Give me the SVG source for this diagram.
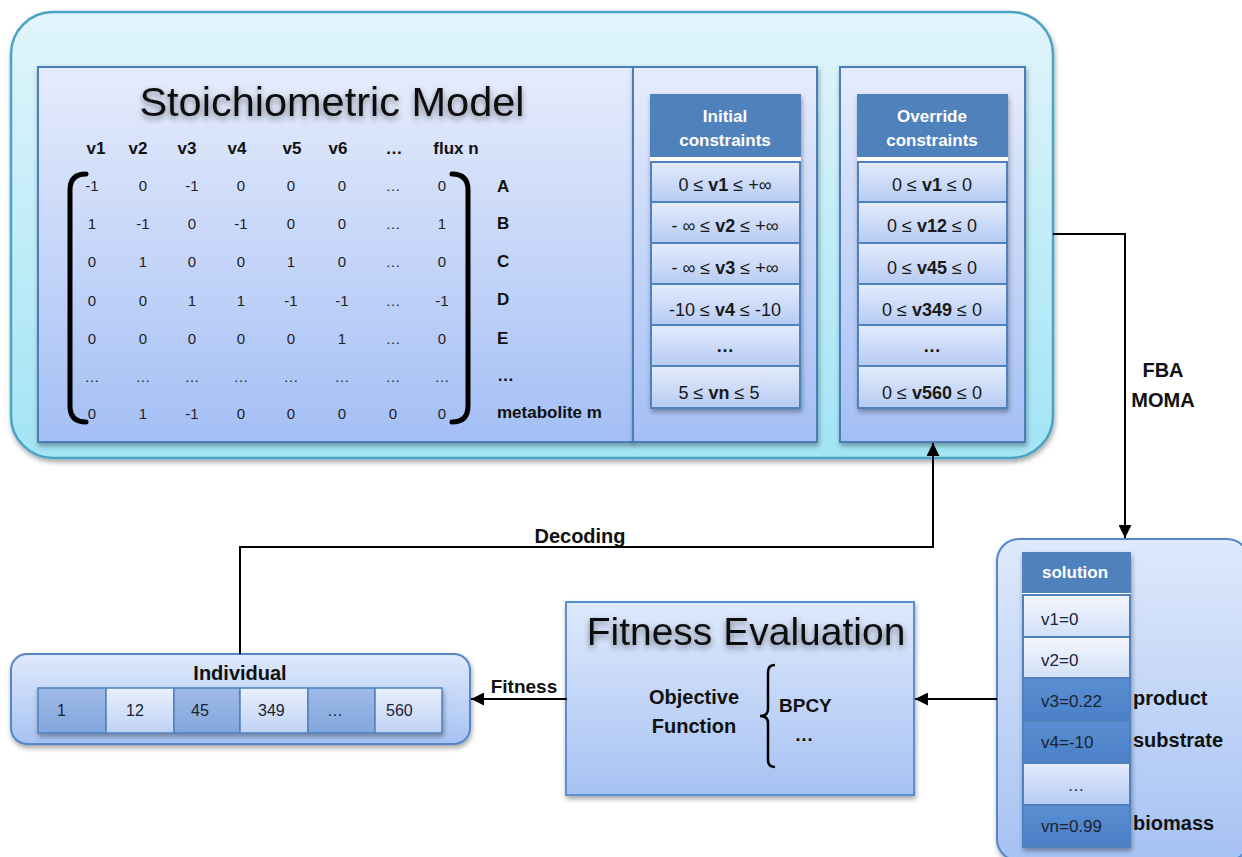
<svg xmlns="http://www.w3.org/2000/svg" width="1242" height="857" viewBox="0 0 1242 857">
<defs>
<linearGradient id="gOuter" x1="0" y1="0" x2="0" y2="1"><stop offset="0" stop-color="#e1f5fc"/><stop offset="1" stop-color="#a2e4f5"/></linearGradient>
<linearGradient id="gPanel" x1="0" y1="0" x2="0" y2="1"><stop offset="0" stop-color="#e6ecfc"/><stop offset="1" stop-color="#a4bff5"/></linearGradient>
<linearGradient id="gBox" x1="0" y1="0" x2="0" y2="1"><stop offset="0" stop-color="#dfe9fc"/><stop offset="1" stop-color="#a6c2f3"/></linearGradient>
<linearGradient id="gRow" x1="0" y1="0" x2="0" y2="1"><stop offset="0" stop-color="#e4ecfc"/><stop offset="1" stop-color="#b6cbf3"/></linearGradient>
<linearGradient id="gLight" x1="0" y1="0" x2="0" y2="1"><stop offset="0" stop-color="#f4f7fe"/><stop offset="1" stop-color="#d3e0f8"/></linearGradient>
<linearGradient id="gDark" x1="0" y1="0" x2="0" y2="1"><stop offset="0" stop-color="#5a8fd3"/><stop offset="1" stop-color="#4b80c6"/></linearGradient>
<linearGradient id="gCellDark" x1="0" y1="0" x2="0" y2="1"><stop offset="0" stop-color="#9fbbe8"/><stop offset="1" stop-color="#82a6dc"/></linearGradient>
<linearGradient id="gCellLight" x1="0" y1="0" x2="0" y2="1"><stop offset="0" stop-color="#eaf0fd"/><stop offset="1" stop-color="#bed1f4"/></linearGradient>
<filter id="sh" x="-10%" y="-10%" width="120%" height="130%"><feDropShadow dx="1" dy="3" stdDeviation="2.5" flood-color="#000" flood-opacity="0.35"/></filter>
<filter id="tsh" x="-10%" y="-30%" width="120%" height="170%"><feDropShadow dx="0" dy="3" stdDeviation="3" flood-color="#000" flood-opacity="0.45"/></filter>
<marker id="arr" viewBox="0 0 13 13" refX="13" refY="6.5" markerWidth="13" markerHeight="13" markerUnits="userSpaceOnUse" orient="auto"><path d="M0,0 L13,6.5 L0,13 z" fill="#000"/></marker>
</defs>
<style>
text{font-family:"Liberation Sans",Arial,sans-serif;fill:#111}
.b{font-weight:bold}
.title{font-size:41.5px;text-anchor:middle;filter:url(#tsh)}
.colh{font-size:17px;font-weight:bold;text-anchor:middle}
.rowl{font-size:17px;font-weight:bold}
.m{font-size:15px;text-anchor:middle;fill:#222}
.panel{fill:url(#gPanel);stroke:#4a7ebb;stroke-width:2}
.hdr{fill:#4f81bd}
.hdrt{font-size:17px;font-weight:bold;fill:#fff;text-anchor:middle}
.row{fill:url(#gRow);stroke:#4f81bd;stroke-width:2}
.ct{font-size:18px;text-anchor:middle;fill:#1a1a1a}
.lbl{font-size:20px;font-weight:bold}
.sol{font-size:17px;fill:#1a2333}
.cell{font-size:16px;fill:#1a2333}
.br{fill:none;stroke:#000;stroke-width:5;stroke-linecap:round}
.conn{fill:none;stroke:#000;stroke-width:2}
</style>

<g id="stoichiometric-container">
<rect x="11" y="12" width="1042" height="446" rx="42" fill="url(#gOuter)" stroke="#4aa3c3" stroke-width="2.5" filter="url(#sh)"/>
</g>

<g id="stoichiometric-model">
<rect class="panel" x="38" y="67" width="595" height="375" filter="url(#sh)"/>
<text class="title" x="332" y="116">Stoichiometric Model</text>
<text class="colh" x="96" y="154">v1</text>
<text class="colh" x="138" y="154">v2</text>
<text class="colh" x="187" y="154">v3</text>
<text class="colh" x="237" y="154">v4</text>
<text class="colh" x="292" y="154">v5</text>
<text class="colh" x="338" y="154">v6</text>
<text class="colh" x="394" y="154">…</text>
<text class="colh" x="456" y="154">flux n</text>
<path class="br" d="M86,174 Q70,174 70,190 L70,406 Q70,422 86,422"/>
<path class="br" d="M452,174 Q468,174 468,190 L468,406 Q468,422 452,422"/>
<g id="matrix">
<text class="m" y="191"><tspan x="92">-1</tspan><tspan x="143">0</tspan><tspan x="192">-1</tspan><tspan x="241">0</tspan><tspan x="291">0</tspan><tspan x="342">0</tspan><tspan x="393">…</tspan><tspan x="442">0</tspan></text>
<text class="m" y="229"><tspan x="92">1</tspan><tspan x="143">-1</tspan><tspan x="192">0</tspan><tspan x="241">-1</tspan><tspan x="291">0</tspan><tspan x="342">0</tspan><tspan x="393">…</tspan><tspan x="442">1</tspan></text>
<text class="m" y="267"><tspan x="92">0</tspan><tspan x="143">1</tspan><tspan x="192">0</tspan><tspan x="241">0</tspan><tspan x="291">1</tspan><tspan x="342">0</tspan><tspan x="393">…</tspan><tspan x="442">0</tspan></text>
<text class="m" y="306"><tspan x="92">0</tspan><tspan x="143">0</tspan><tspan x="192">1</tspan><tspan x="241">1</tspan><tspan x="291">-1</tspan><tspan x="342">-1</tspan><tspan x="393">…</tspan><tspan x="442">-1</tspan></text>
<text class="m" y="344"><tspan x="92">0</tspan><tspan x="143">0</tspan><tspan x="192">0</tspan><tspan x="241">0</tspan><tspan x="291">0</tspan><tspan x="342">1</tspan><tspan x="393">…</tspan><tspan x="442">0</tspan></text>
<text class="m" y="382"><tspan x="92">…</tspan><tspan x="143">…</tspan><tspan x="192">…</tspan><tspan x="241">…</tspan><tspan x="291">…</tspan><tspan x="342">…</tspan><tspan x="393">…</tspan><tspan x="442">…</tspan></text>
<text class="m" y="419"><tspan x="92">0</tspan><tspan x="143">1</tspan><tspan x="192">-1</tspan><tspan x="241">0</tspan><tspan x="291">0</tspan><tspan x="342">0</tspan><tspan x="393">0</tspan><tspan x="442">0</tspan></text>
</g>
<text class="rowl" x="497" y="192">A</text>
<text class="rowl" x="497" y="229">B</text>
<text class="rowl" x="497" y="267">C</text>
<text class="rowl" x="497" y="305">D</text>
<text class="rowl" x="497" y="344">E</text>
<text class="rowl" x="497" y="381">…</text>
<text class="rowl" x="497" y="418">metabolite m</text>
</g>

<g id="initial-constraints">
<rect class="panel" x="633" y="67" width="184" height="375" filter="url(#sh)"/>
<g filter="url(#sh)">
<rect class="hdr" x="650" y="94" width="151" height="63"/>
<rect x="650" y="157" width="151" height="5" fill="#fff"/>
<rect class="row" x="651" y="162" width="149" height="40"/>
<rect class="row" x="651" y="202" width="149" height="41"/>
<rect class="row" x="651" y="243" width="149" height="41"/>
<rect class="row" x="651" y="284" width="149" height="41"/>
<rect class="row" x="651" y="325" width="149" height="41"/>
<rect class="row" x="651" y="366" width="149" height="42"/>
</g>
<text class="hdrt" x="725" y="122">Initial</text>
<text class="hdrt" x="725" y="146">constraints</text>
<text class="ct" x="725" y="191">0 ≤ <tspan class="b">v1</tspan> ≤ +∞</text>
<text class="ct" x="725" y="232">- ∞ ≤ <tspan class="b">v2</tspan> ≤ +∞</text>
<text class="ct" x="725" y="274">- ∞ ≤ <tspan class="b">v3</tspan> ≤ +∞</text>
<text class="ct" x="725" y="316">-10 ≤ <tspan class="b">v4</tspan> ≤ -10</text>
<text class="ct b" x="725" y="352">…</text>
<text class="ct" x="719" y="399">5 ≤ <tspan class="b">vn</tspan> ≤ 5</text>
</g>

<g id="override-constraints">
<rect class="panel" x="840" y="67" width="185" height="375" filter="url(#sh)"/>
<g filter="url(#sh)">
<rect class="hdr" x="857" y="94" width="151" height="63"/>
<rect x="857" y="157" width="151" height="5" fill="#fff"/>
<rect class="row" x="858" y="162" width="149" height="40"/>
<rect class="row" x="858" y="202" width="149" height="41"/>
<rect class="row" x="858" y="243" width="149" height="41"/>
<rect class="row" x="858" y="284" width="149" height="41"/>
<rect class="row" x="858" y="325" width="149" height="41"/>
<rect class="row" x="858" y="366" width="149" height="42"/>
</g>
<text class="hdrt" x="932" y="122">Override</text>
<text class="hdrt" x="932" y="146">constraints</text>
<text class="ct" x="932" y="191">0 ≤ <tspan class="b">v1</tspan> ≤ 0</text>
<text class="ct" x="932" y="232">0 ≤ <tspan class="b">v12</tspan> ≤ 0</text>
<text class="ct" x="932" y="274">0 ≤ <tspan class="b">v45</tspan> ≤ 0</text>
<text class="ct" x="932" y="316">0 ≤ <tspan class="b">v349</tspan> ≤ 0</text>
<text class="ct b" x="932" y="352">…</text>
<text class="ct" x="932" y="399">0 ≤ <tspan class="b">v560</tspan> ≤ 0</text>
</g>

<g id="solution">
<rect x="997" y="539" width="252" height="322" rx="22" fill="url(#gBox)" stroke="#5686c8" stroke-width="2" filter="url(#sh)"/>
<g filter="url(#sh)">
<rect class="hdr" x="1022" y="552" width="109" height="41"/>
<rect x="1022" y="593" width="109" height="2" fill="#fff"/>
<rect x="1023" y="595" width="107" height="42" fill="url(#gLight)" stroke="#4f81bd" stroke-width="2"/>
<rect x="1023" y="637" width="107" height="41" fill="url(#gLight)" stroke="#4f81bd" stroke-width="2"/>
<rect x="1023" y="678" width="107" height="43" fill="url(#gDark)" stroke="#4f81bd" stroke-width="2"/>
<rect x="1023" y="721" width="107" height="42" fill="url(#gDark)" stroke="#4f81bd" stroke-width="2"/>
<rect x="1023" y="763" width="107" height="42" fill="url(#gRow)" stroke="#4f81bd" stroke-width="2"/>
<rect x="1023" y="805" width="107" height="42" fill="url(#gDark)" stroke="#4f81bd" stroke-width="2"/>
</g>
<text class="hdrt" x="1075" y="578">solution</text>
<text class="sol" x="1041" y="625">v1=0</text>
<text class="sol" x="1041" y="666">v2=0</text>
<text class="sol" x="1041" y="707">v3=0.22</text>
<text class="sol" x="1041" y="748">v4=-10</text>
<text class="sol" x="1076" y="791" text-anchor="middle">…</text>
<text class="sol" x="1041" y="832">vn=0.99</text>
<text class="lbl" x="1133" y="705">product</text>
<text class="lbl" x="1133" y="747">substrate</text>
<text class="lbl" x="1133" y="830">biomass</text>
</g>

<g id="fitness-evaluation">
<rect x="566" y="602" width="348" height="193" fill="url(#gBox)" stroke="#5b8fd0" stroke-width="2" filter="url(#sh)"/>
<text class="title" x="746" y="645" style="font-size:39px">Fitness Evaluation</text>
<text class="lbl" x="694" y="704" text-anchor="middle">Objective</text>
<text class="lbl" x="694" y="733" text-anchor="middle">Function</text>
<path d="M775,665 Q768,665 768,672 L768,709 Q768,716 760,716 Q768,716 768,723 L768,760 Q768,767 775,767" fill="none" stroke="#000" stroke-width="2.5"/>
<text class="lbl" x="779" y="712" style="font-size:19px">BPCY</text>
<text class="lbl" x="804" y="741" text-anchor="middle" style="font-size:19px">…</text>
</g>

<g id="individual">
<rect x="11" y="654" width="459" height="90" rx="16" fill="url(#gBox)" stroke="#5686c8" stroke-width="2" filter="url(#sh)"/>
<text class="lbl" x="240" y="680" text-anchor="middle">Individual</text>
<g filter="url(#sh)" stroke="#4f81bd" stroke-width="1.5">
<rect x="38" y="688" width="68" height="45" fill="url(#gCellDark)"/>
<rect x="106" y="688" width="68" height="45" fill="url(#gCellLight)"/>
<rect x="174" y="688" width="66" height="45" fill="url(#gCellDark)"/>
<rect x="240" y="688" width="68" height="45" fill="url(#gCellLight)"/>
<rect x="308" y="688" width="67" height="45" fill="url(#gCellDark)"/>
<rect x="375" y="688" width="67" height="45" fill="url(#gCellLight)"/>
</g>
<text class="cell" x="57" y="716">1</text>
<text class="cell" x="126" y="716">12</text>
<text class="cell" x="191" y="716">45</text>
<text class="cell" x="258" y="716">349</text>
<text class="cell" x="327" y="716">…</text>
<text class="cell" x="386" y="716">560</text>
</g>

<g id="connectors">
<path class="conn" d="M1053,234 H1125 V538" marker-end="url(#arr)"/>
<path class="conn" d="M240,654 V547 H933 V443" marker-end="url(#arr)"/>
<path class="conn" d="M997,699 H915" marker-end="url(#arr)"/>
<path class="conn" d="M567,699 H471" marker-end="url(#arr)"/>
<text class="lbl" x="1163" y="377" text-anchor="middle">FBA</text>
<text class="lbl" x="1163" y="407" text-anchor="middle">MOMA</text>
<text class="lbl" x="580" y="543" text-anchor="middle">Decoding</text>
<text class="lbl" x="524" y="693" text-anchor="middle" style="font-size:19px">Fitness</text>
</g>
</svg>
